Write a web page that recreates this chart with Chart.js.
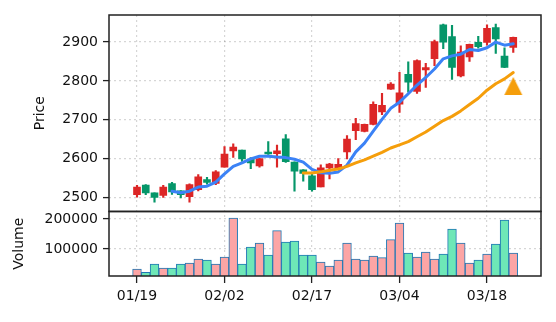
<!DOCTYPE html>
<html>
<head>
<meta charset="utf-8">
<script src="https://cdn.jsdelivr.net/npm/chart.js@4/dist/chart.umd.min.js"></script>
<style>
  html, body { margin: 0; padding: 0; background: #fff; }
  #wrap { position: relative; width: 556px; height: 322px; }
</style>
</head>
<body>
<div id="wrap"><canvas id="chart" width="556" height="322"></canvas></div>
<script>
// Trading days
const dates = [
  '01/19','01/20','01/21','01/22','01/23','01/26','01/27','01/28','01/29','01/30',
  '02/02','02/03','02/04','02/05','02/06','02/09','02/10','02/11','02/12','02/13',
  '02/17','02/18','02/19','02/20','02/23','02/24','02/25','02/26','02/27','03/03',
  '03/04','03/05','03/06','03/09','03/10','03/11','03/12','03/13','03/16','03/17',
  '03/18','03/19','03/20','03/23'
];

// OHLC prices
const open = [
  2507, 2532, 2512, 2505, 2536, 2517, 2502, 2520, 2546, 2536,
  2578, 2620, 2622, 2599, 2581, 2617, 2613, 2651, 2591, 2571,
  2556, 2527, 2576, 2575, 2617, 2672, 2670, 2688, 2720, 2779,
  2740, 2817, 2773, 2828, 2857, 2944, 2914, 2813, 2862, 2899,
  2899, 2937, 2864, 2886
];
const high = [
  2531, 2533, 2512, 2531, 2539, 2518, 2535, 2559, 2552, 2569,
  2631, 2638, 2622, 2603, 2600, 2644, 2635, 2662, 2592, 2572,
  2562, 2584, 2588, 2600, 2659, 2704, 2689, 2746, 2768, 2796,
  2822, 2849, 2854, 2845, 2905, 2946, 2943, 2890, 2895, 2915,
  2944, 2946, 2885, 2913
];
const low = [
  2501, 2507, 2488, 2500, 2508, 2499, 2488, 2517, 2534, 2533,
  2578, 2603, 2593, 2574, 2578, 2611, 2578, 2590, 2516, 2542,
  2516, 2527, 2548, 2575, 2599, 2649, 2669, 2687, 2713, 2778,
  2719, 2771, 2768, 2783, 2839, 2883, 2804, 2810, 2850, 2884,
  2892, 2871, 2834, 2873
];
const close = [
  2527, 2512, 2500, 2527, 2514, 2507, 2533, 2553, 2539, 2566,
  2612, 2630, 2599, 2589, 2600, 2612, 2620, 2592, 2568, 2562,
  2520, 2576, 2586, 2585, 2650, 2690, 2688, 2740, 2737, 2792,
  2769, 2797, 2852, 2834, 2901, 2900, 2835, 2874, 2894, 2888,
  2935, 2908, 2835, 2912
];
const volume = [
  33300, 22000, 50000, 36700, 36700, 50000, 53300, 66700, 63300, 50000,
  73300, 203300, 50000, 106700, 120000, 80000, 161000, 123300, 126700, 80000,
  80000, 56700, 43300, 63300, 120000, 66700, 63300, 76700, 71000, 131000,
  186700, 86700, 73300, 90000, 66700, 83300, 166700, 120000, 53300, 63300,
  83300, 116700, 196700, 86700
];

// 5-day and 20-day moving averages of the close
const ma5 = [
  null, null, null, null, 2516.0, 2512.0, 2516.2, 2526.8, 2529.2, 2539.6,
  2560.6, 2580.0, 2589.2, 2599.2, 2606.0, 2606.0, 2604.0, 2602.6, 2598.4, 2590.8,
  2572.4, 2563.6, 2562.4, 2565.8, 2583.4, 2617.4, 2639.8, 2670.6, 2701.0, 2729.4,
  2745.2, 2767.0, 2789.4, 2808.8, 2830.6, 2856.8, 2864.4, 2868.8, 2880.8, 2878.2,
  2885.2, 2899.8, 2892.0, 2895.6
];
const ma20 = [
  null, null, null, null, null, null, null, null, null, null,
  null, null, null, null, null, null, null, null, null, 2563.1,
  2562.75, 2565.95, 2570.25, 2573.15, 2579.95, 2589.1, 2596.85, 2606.2, 2616.1, 2627.4,
  2635.25, 2643.6, 2656.25, 2668.5, 2683.55, 2697.95, 2708.7, 2722.8, 2739.1, 2755.4,
  2776.15, 2792.75, 2805.2, 2821.55
];

// Signal marker
const signalDate = '03/23';
const signalPrice = 2787;

// Axis ticks
const priceTicks = [2500, 2600, 2700, 2800, 2900];
const volumeTicks = [100000, 200000];
const dateTicks = ['01/19', '02/02', '02/17', '03/04', '03/18'];

const UP = '#dc2626', DOWN = '#059669';
const VOL_UP = '#fca5a5', VOL_DOWN = '#6ee7b7';
const idx = dates.map((_, i) => i);
const rising = idx.map(i => close[i] >= open[i]);

Chart.defaults.font.family = "'DejaVu Sans', sans-serif";
Chart.defaults.font.size = 14;
Chart.defaults.color = '#111';

// Upward triangle marker image
const tri = document.createElement('canvas');
tri.width = 20; tri.height = 20;
(function () {
  const c = tri.getContext('2d');
  c.fillStyle = '#f59e0b';
  c.beginPath();
  c.moveTo(10, 1); c.lineTo(19, 19); c.lineTo(1, 19); c.closePath();
  c.fill();
})();

const gridCommon = {
  color: 'rgba(0,0,0,0.16)',
  lineWidth: 1.2,
  tickColor: '#222',
  tickWidth: 1.3,
  tickLength: 6,
  offset: false
};

// Box around each panel
const panelFrame = {
  id: 'panelFrame',
  afterDraw(chart) {
    const { ctx, chartArea } = chart;
    ctx.save();
    ctx.strokeStyle = '#222';
    ctx.lineWidth = 1.5;
    for (const id of ['y', 'yv']) {
      const s = chart.scales[id];
      ctx.strokeRect(chartArea.left, s.top, chartArea.right - chartArea.left, s.bottom - s.top);
    }
    ctx.restore();
  }
};

new Chart(document.getElementById('chart'), {
  data: {
    datasets: [
      {
        type: 'bar', yAxisID: 'y', grouped: false, order: 6,
        data: idx.map(i => ({ x: i, y: [low[i], high[i]] })),
        backgroundColor: idx.map(i => rising[i] ? UP : DOWN),
        barThickness: 1.5
      },
      {
        type: 'bar', yAxisID: 'y', grouped: false, order: 5,
        data: idx.map(i => ({ x: i, y: [open[i], close[i]] })),
        backgroundColor: idx.map(i => rising[i] ? UP : DOWN),
        barThickness: 7
      },
      {
        type: 'bar', yAxisID: 'yv', grouped: false, order: 5,
        data: idx.map(i => ({ x: i, y: volume[i] })),
        backgroundColor: idx.map(i => rising[i] ? VOL_UP : VOL_DOWN),
        borderColor: '#1f77b4', borderWidth: 1,
        barThickness: 8.75
      },
      {
        type: 'line', yAxisID: 'y', order: 3,
        data: idx.filter(i => ma5[i] !== null).map(i => ({ x: i, y: ma5[i] })),
        borderColor: '#3b82f6', borderWidth: 3, pointRadius: 0,
        borderJoinStyle: 'round', borderCapStyle: 'round'
      },
      {
        type: 'line', yAxisID: 'y', order: 2,
        data: idx.filter(i => ma20[i] !== null).map(i => ({ x: i, y: ma20[i] })),
        borderColor: '#f59e0b', borderWidth: 3, pointRadius: 0,
        borderJoinStyle: 'round', borderCapStyle: 'round'
      },
      {
        type: 'scatter', yAxisID: 'y', order: 1,
        data: [{ x: dates.indexOf(signalDate), y: signalPrice }],
        pointStyle: tri, pointRadius: 10
      }
    ]
  },
  options: {
    responsive: false,
    animation: false,
    events: [],
    layout: { padding: { top: 15, right: 15, left: 0, bottom: 0 } },
    plugins: { legend: { display: false }, tooltip: { enabled: false } },
    scales: {
      yv: {
        type: 'linear', position: 'left',
        stack: 'panels', stackWeight: 64.6,
        min: 10000, max: 225000,
        afterBuildTicks: s => { s.ticks = volumeTicks.map(v => ({ value: v })); },
        afterFit: s => { s.width = 109; },
        ticks: { callback: v => String(v), padding: 5, autoSkip: false },
        grid: gridCommon,
        border: { display: false, dash: [2, 3] },
        title: { display: true, text: 'Volume', padding: { top: 11, bottom: 0 } }
      },
      y: {
        type: 'linear', position: 'left',
        stack: 'panels', stackWeight: 196.7,
        min: 2464, max: 2969.6,
        afterBuildTicks: s => { s.ticks = priceTicks.map(v => ({ value: v })); },
        afterFit: s => { s.width = 109; },
        ticks: { callback: v => String(v), padding: 5, autoSkip: false },
        grid: gridCommon,
        border: { display: false, dash: [2, 3] },
        title: { display: true, text: 'Price', padding: { top: 32, bottom: 0 } }
      },
      x: {
        type: 'linear', position: 'bottom',
        min: -3.2, max: 46.17, offset: false,
        afterBuildTicks: s => { s.ticks = dateTicks.map(d => ({ value: dates.indexOf(d) })); },
        afterFit: s => { s.height = 46; },
        ticks: { callback: v => dates[v], padding: 5, autoSkip: false, maxRotation: 0 },
        grid: Object.assign({}, gridCommon, { tickLength: 7 }),
        border: { display: false, dash: [2, 3] }
      }
    }
  },
  plugins: [panelFrame]
});
</script>
</body>
</html>
